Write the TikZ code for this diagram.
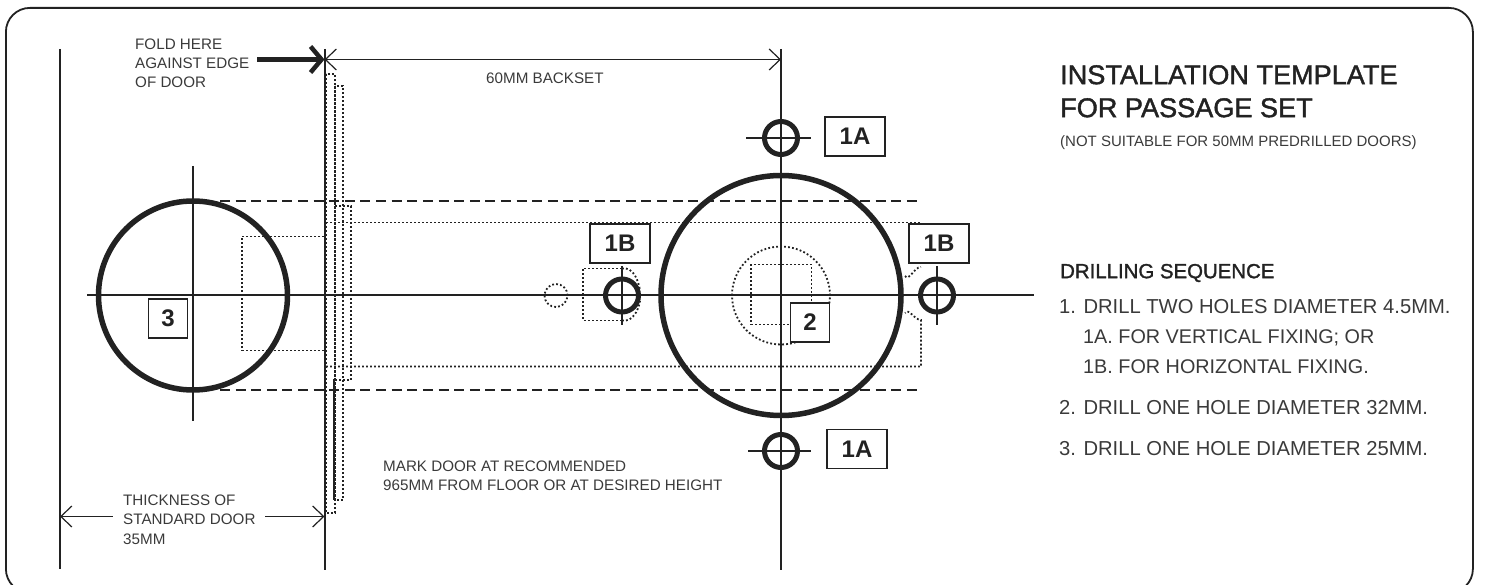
\documentclass[tikz,border=0pt]{standalone}
\usepackage{fontspec}
\setmainfont{Liberation Sans}
\newfontfamily\medfont[FakeBold=1.5]{Liberation Sans}
\usetikzlibrary{arrows.meta,positioning,calc}
\definecolor{inkcol}{HTML}{222222}
\definecolor{textcol}{HTML}{3A3A3A}
\begin{document}
\begin{tikzpicture}[x=1pt,y=-1pt,inkcol,
thin line/.style={draw=inkcol,line width=2pt},
dim line/.style={draw=inkcol,line width=1.3pt},
barb/.tip={Straight Barb[length=11pt,width=21pt,line width=1.2pt]},
thick circle/.style={circle,draw=inkcol,line width=5.5pt,inner sep=0pt,minimum size=#1},
small circle/.style={circle,draw=inkcol,line width=5pt,inner sep=0pt,minimum size=33pt},
dot line/.style={draw=inkcol,line width=1.8pt,dash pattern=on 1.8pt off 2.2pt},
dash line/.style={draw=inkcol,line width=2pt,dash pattern=on 10pt off 5.61pt},
step label/.style={draw=inkcol,line width=1.7pt,fill=white,font=\fontsize{24}{24}\selectfont\bfseries,inner sep=0pt,minimum height=39pt},
small label/.style={align=left,anchor=north west,inner sep=0pt,textcol,font=\fontsize{15.2}{19.3}\selectfont},
list label/.style={anchor=west,inner sep=0pt,textcol,font=\fontsize{20.2}{22}\selectfont}]
\useasboundingbox (0,0) rectangle (1486,585);
\node[draw=inkcol,line width=1.8pt,rounded corners=24pt,minimum width=1467pt,minimum height=585pt,inner sep=0pt,anchor=north west] (frame) at (5,7) {};
% centres
\coordinate (c3) at (193,295.5);
\coordinate (c2) at (781,295.5);
\coordinate (a1) at (781,138);
\coordinate (a2) at (781,451);
\coordinate (b1) at (622,295.5);
\coordinate (b2) at (937,295.5);
% dotted outlines under the rest
\begin{scope}[every path/.style={dot line}]
\draw (326,74) rectangle (335,513);
\draw (335,86) rectangle (343,500);
\draw (335,206) -- (351,206) -- (351,380) -- (335,380);
\draw (324,236.5) -- (242,236.5) -- (242,350.5) -- (324,350.5);
\draw (326,222.5) -- (921,222.5);
\draw (326,366.5) -- (921,366.5) -- (921,320) to[out=180,in=55] (905,313);
\draw (905,276) to[out=-55,in=180] (921,267);
\draw (622,268.5) -- (583,268.5) -- (583,320.5) -- (622,320.5);
\draw (622,268.5) to[out=10,in=100] (640,290);
\draw (622,320.5) to[out=-10,in=-100] (640,301);
\node[circle,draw,inner sep=0pt,minimum size=23pt] (pin) at (556,295.5) {};
\node[circle,draw,inner sep=0pt,minimum size=98pt] (bore) at (c2) {};
\draw (751,264.5) rectangle (811.5,324.5);
\end{scope}
% dashed
\draw[dash line] (220,201.5) -- (917,201.5);
\draw[dash line] (220,389.5) -- (917,389.5);
% centre lines
\draw[thin line] (60,49) -- (60,569);
\draw[thin line] (324.5,49) -- (324.5,570);
\draw[thin line] (781,49) -- (781,570);
\draw[thin line] (87,295.5) -- (1034,295.5);
\draw[thin line] (193,166) -- (193,421);
\draw[thin line] (622,266) -- (622,325);
\draw[thin line] (937,266) -- (937,325);
\draw[thin line] (746,138) -- (811,138);
\draw[thin line] (748,451) -- (811,451);
\draw[draw=inkcol,line width=2pt] (334,379) -- (334,500);
% holes
\node[thick circle=189pt] (hole3) at (c3) {};
\node[thick circle=240pt] (hole2) at (c2) {};
\node[small circle] (hole1a) at (a1) {};
\node[small circle] (hole1c) at (a2) {};
\node[small circle] (hole1b) at (b1) {};
\node[small circle] (hole1d) at (b2) {};
% step labels
\node[step label,minimum width=60pt] (s1a) at (855,136.5) {1A};
\node[step label,minimum width=60pt] (s1c) at (857,449) {1A};
\node[step label,minimum width=60pt] (s1b) at (620,243.5) {1B};
\node[step label,minimum width=60pt] (s1d) at (939,243.5) {1B};
\node[step label,minimum width=39pt] (s2) at (810,322.5) {2};
\node[step label,minimum width=39pt] (s3) at (168,318.5) {3};
% dimensions
\coordinate (dl) at (60,516.5);
\coordinate (dm) at (324.5,516.5);
\coordinate (dla) at (113,516.5);
\coordinate (dmb) at (265,516.5);
\coordinate (tl) at (324.5,59.5);
\coordinate (tr) at (781,59.5);
\coordinate (fs) at (257,59.5);
\draw[dim line,barb-barb] (tl) -- (tr);
\draw[dim line,barb-] (dl) -- (dla);
\draw[dim line,-barb] (dmb) -- (dm);
\draw[draw=inkcol,line width=5pt,-{Straight Barb[length=11pt,width=26pt,line width=4.5pt]}] (fs) -- (tl);
% texts
\node[small label] (thick) at (123,494.6) {THICKNESS OF\\STANDARD DOOR\\35MM};
\node[small label] (fold) at (135,38.5) {FOLD HERE\\AGAINST EDGE\\OF DOOR};
\node[small label,anchor=west] (backset) at (486,78) {60MM BACKSET};
\node[small label] (mark) at (383,460.3) {MARK DOOR AT RECOMMENDED\\965MM FROM FLOOR OR AT DESIRED HEIGHT};
\node[anchor=north west,align=left,inner sep=0pt,inkcol,font=\medfont\fontsize{27.1}{33}\selectfont] (title) at (1060,65) {INSTALLATION TEMPLATE\\FOR PASSAGE SET};
\node[small label,anchor=west,font=\fontsize{15}{19}\selectfont] (note) at (1060,142.5) {(NOT SUITABLE FOR 50MM PREDRILLED DOORS)};
\node[list label,inkcol,font=\medfont\fontsize{20.4}{22}\selectfont] (seq) at (1060,273) {DRILLING SEQUENCE};
\node[list label] (l1) at (1059,306.5) {1. DRILL TWO HOLES DIAMETER 4.5MM.};
\node[list label,font=\fontsize{19.8}{22}\selectfont] (l1a) at (1083,338) {1A. FOR VERTICAL FIXING; OR};
\node[list label,font=\fontsize{19.8}{22}\selectfont] (l1b) at (1083,367) {1B. FOR HORIZONTAL FIXING.};
\node[list label] (l2) at (1059,408) {2. DRILL ONE HOLE DIAMETER 32MM.};
\node[list label] (l3) at (1059,449) {3. DRILL ONE HOLE DIAMETER 25MM.};
\end{tikzpicture}
\end{document}
